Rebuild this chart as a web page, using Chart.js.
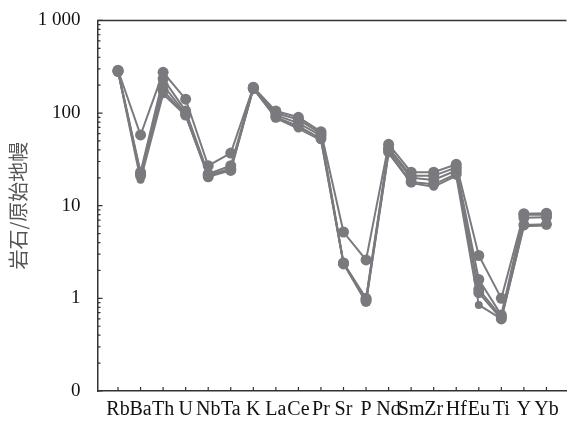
<!DOCTYPE html>
<html>
<head>
<meta charset="utf-8">
<script src="https://cdn.jsdelivr.net/npm/chart.js@4"></script>
<style>
    html, body { margin: 0; padding: 0; background: #fff; }
</style>
</head>
<body>
<canvas id="spiderChart" width="572" height="421"></canvas>
<script>
// 原始地幔标准化微量元素蛛网图
var elements = ['Rb', 'Ba', 'Th', 'U', 'Nb', 'Ta', 'K', 'La', 'Ce', 'Pr', 'Sr', 'P', 'Nd', 'Sm', 'Zr', 'Hf', 'Eu', 'Ti', 'Y', 'Yb'];

var sampleA = [290, 58, 275, 141, 27, 37, 190, 105, 90, 63, 5.2, 2.6, 46, 23, 23, 28, 2.9, 1.0, 8.2, 8.3];
var sampleB = [285, 23, 235, 105, 22, 27, 188, 100, 85, 60, 2.4, 1.0, 42, 21, 21, 26, 1.6, 0.66, 8.0, 8.0];
var sampleC = [285, 22, 200, 98, 21.5, 25, 185, 95, 78, 57, 2.4, 0.97, 40, 20, 19, 24, 1.25, 0.63, 7.4, 7.5];
var sampleD = [280, 21, 175, 95, 20.5, 24, 183, 90, 72, 53, 2.35, 0.93, 38, 18, 17, 22, 1.15, 0.6, 6.2, 6.3];
var sampleE = [282, 19, 160, 94, 21, 24.5, 185, 88, 68, 51, 2.4, 0.9, 37, 17.5, 16, 21, 0.85, 0.6, 6.0, 6.1];

var yTickValues = [0.1, 1, 10, 100, 1000];
var yTickLabels = ['0', '1', '10', '100', '1 000'];

var lineColor = 'rgb(122, 122, 126)';
var axisColor = '#333';

function toPoints(values) {
    var pts = [];
    for (var i = 0; i < values.length; i++)
        pts.push({x: i, y: values[i]});
    return pts;
}

function makeSet(name, values, radius) {
    return {
        label: name,
        data: toPoints(values),
        borderColor: lineColor,
        backgroundColor: lineColor,
        borderWidth: 2,
        pointRadius: radius,
        pointBorderWidth: 0,
        pointBackgroundColor: lineColor,
        tension: 0,
        fill: false
    };
}

// 내부로 향하는 눈금 + 위쪽 테두리
var innerTicks = {
    id: 'innerTicks',
    afterDraw: function(chart) {
        var ctx = chart.ctx;
        var area = chart.chartArea;
        var xs = chart.scales.x;
        var ys = chart.scales.y;
        ctx.save();
        ctx.strokeStyle = axisColor;
        ctx.lineWidth = 1.2;
        ctx.beginPath();
        for (var i = 0; i < elements.length; i++) {
            var px = xs.getPixelForValue(i);
            ctx.moveTo(px, area.bottom);
            ctx.lineTo(px, area.bottom - 4);
        }
        ys.ticks.forEach(function(t) {
            var py = ys.getPixelForValue(t.value);
            var major = yTickValues.indexOf(t.value) >= 0;
            ctx.moveTo(area.left, py);
            ctx.lineTo(area.left + (major ? 5 : 3), py);
        });
        ctx.stroke();
        ctx.lineWidth = 1.5;
        ctx.beginPath();
        ctx.moveTo(area.left, area.top);
        ctx.lineTo(area.right, area.top);
        ctx.stroke();
        ctx.restore();
    }
};

var ctx = document.getElementById('spiderChart').getContext('2d');
var spiderChart = new Chart(ctx, {
    type: 'line',
    data: {
        datasets: [
            makeSet('A', sampleA, 5.5),
            makeSet('B', sampleB, 5.5),
            makeSet('C', sampleC, 5.5),
            makeSet('D', sampleD, 5.5),
            makeSet('E', sampleE, 4)
        ]
    },
    options: {
        responsive: false,
        animation: false,
        layout: { padding: { top: 17, right: 0, left: 0, bottom: 0 } },
        plugins: {
            legend: { display: false },
            tooltip: { enabled: false }
        },
        scales: {
            x: {
                type: 'linear',
                min: -0.91,
                max: 19.89,
                afterBuildTicks: function(scale) {
                    scale.ticks = elements.map(function(e, i) { return {value: i}; });
                },
                afterFit: function(scale) { scale.height = 30; },
                grid: { display: false },
                border: { display: true, color: axisColor, width: 1.5 },
                ticks: {
                    autoSkip: false,
                    maxRotation: 0,
                    padding: -1,
                    color: '#111',
                    font: { family: 'Liberation Serif', size: 20 },
                    callback: function(v) { return elements[v]; }
                }
            },
            y: {
                type: 'logarithmic',
                min: 0.1,
                max: 1000,
                afterBuildTicks: function(scale) {
                    var t = [];
                    for (var d = 0; d < 4; d++) {
                        for (var k = 1; k < 10; k++)
                            t.push({value: parseFloat((k * Math.pow(10, d - 1)).toPrecision(3))});
                    }
                    t.push({value: 1000});
                    scale.ticks = t;
                },
                afterFit: function(scale) { scale.width = 97.5; },
                grid: { display: false },
                border: { display: true, color: axisColor, width: 1.5 },
                ticks: {
                    autoSkip: false,
                    padding: 9,
                    color: '#111',
                    font: { family: 'Liberation Serif', size: 19 },
                    callback: function(v) {
                        var idx = yTickValues.indexOf(v);
                        return idx >= 0 ? yTickLabels[idx] : '';
                    }
                },
                title: {
                    display: true,
                    text: '岩石/原始地幔',
                    color: '#555',
                    padding: { top: 6, bottom: 0 },
                    font: { family: 'Noto Sans CJK SC', size: 20 }
                }
            }
        }
    },
    plugins: [innerTicks]
});
</script>
</body>
</html>
